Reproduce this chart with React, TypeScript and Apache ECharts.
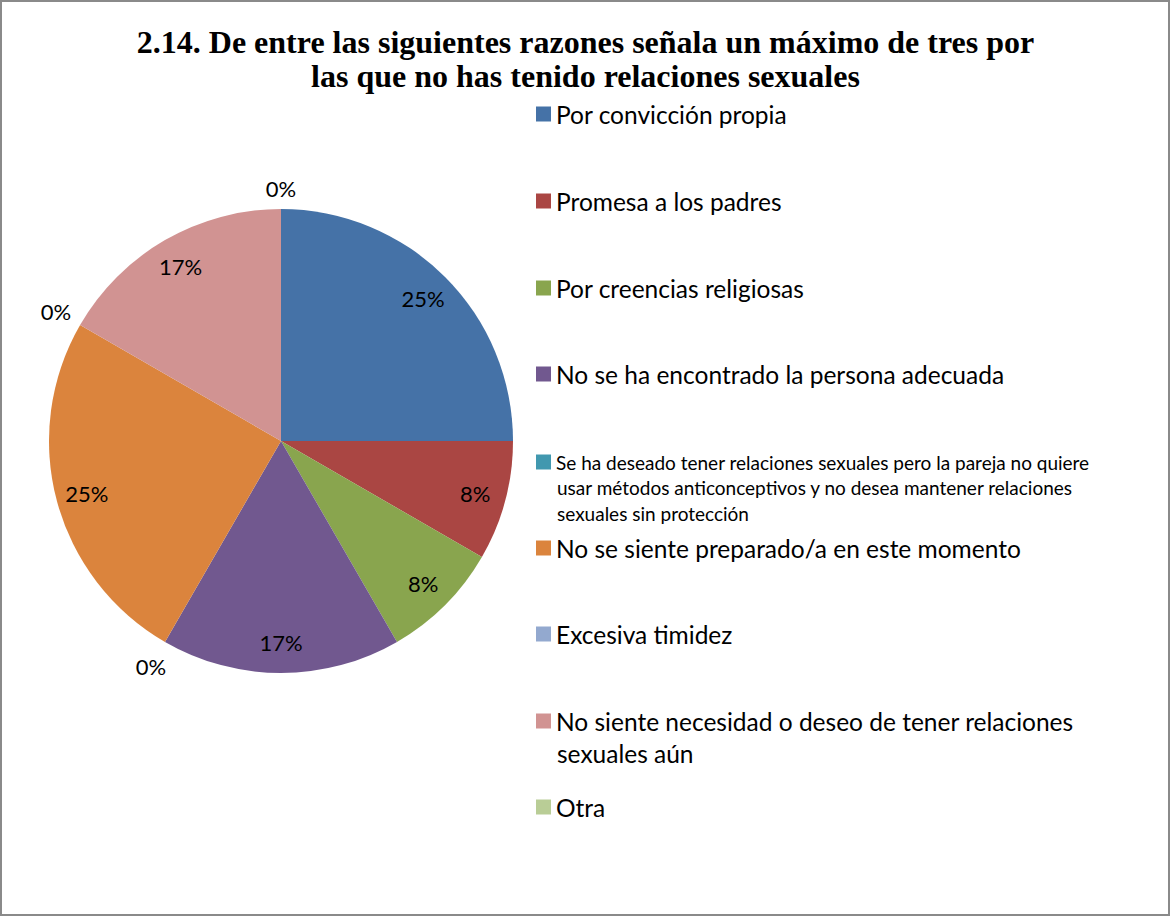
import React, { useEffect, useRef } from "react";
import * as echarts from "echarts";

const titleLines = [
  "2.14. De entre las siguientes razones señala un máximo de tres por",
  "las que no has tenido relaciones sexuales",
];

const categories = [
  "Por convicción propia",
  "Promesa a los padres",
  "Por creencias religiosas",
  "No se ha encontrado la persona adecuada",
  "Se ha deseado tener relaciones sexuales pero la pareja no quiere\nusar métodos anticonceptivos y no desea mantener relaciones\nsexuales sin protección",
  "No se siente preparado/a en este momento",
  "Excesiva timidez",
  "No siente necesidad o deseo de tener relaciones\nsexuales aún",
  "Otra",
];

const counts = [3, 1, 1, 2, 0, 3, 0, 2, 0];

const colors = [
  "#4572A7",
  "#AA4643",
  "#89A54E",
  "#71588F",
  "#4198AF",
  "#DB843D",
  "#93A9CF",
  "#D19392",
  "#B9CD96",
];

// vertical centre of each legend icon (first text line)
const legendCenters = [114, 201, 288, 374, 462, 548, 634, 721, 807];

const FONT = "Lato, 'Noto Sans', sans-serif";

export default function App() {
  const ref = useRef<HTMLDivElement>(null);

  useEffect(() => {
    document.body.style.margin = "0";
    if (!ref.current) return;
    const chart = echarts.init(ref.current, undefined, { renderer: "svg" });

    const data = categories.map((name, i) => ({
      name,
      value: counts[i],
      itemStyle: { color: colors[i] },
    }));

    const pct = (p: any) => Math.round(p.percent) + "%";

    const extraLines: any[] = [];
    const legends = categories.map((name, i) => {
      const small = i === 4;
      const fontSize = small ? 19 : 24.5;
      const lh = small ? 25.5 : 32;
      const lines = name.split("\n");
      lines.slice(1).forEach((ln, k) => {
        extraLines.push({
          type: "text",
          x: 557,
          y: legendCenters[i] + (k + 1) * lh,
          silent: true,
          style: {
            text: ln,
            fontFamily: FONT,
            fontSize,
            fill: "#000",
            verticalAlign: "middle",
            align: "left",
          },
        });
      });
      return {
        orient: "vertical",
        left: 536,
        top: legendCenters[i] - 14,
        padding: 0,
        itemWidth: 15,
        itemHeight: 15,
        icon: "rect",
        selectedMode: false,
        formatter: (n: string) => n.split("\n")[0],
        data: [{ name, itemStyle: { color: colors[i] } }],
        textStyle: {
          fontFamily: FONT,
          fontSize,
          lineHeight: 28,
          color: "#000",
        },
      };
    });

    chart.setOption({
      animation: false,
      backgroundColor: "#fff",
      title: {
        text: titleLines.join("\n"),
        left: "center",
        top: 25,
        padding: 0,
        textStyle: {
          fontFamily: "'Liberation Serif', 'Times New Roman', serif",
          fontWeight: "bold",
          fontSize: 32,
          lineHeight: 34,
          color: "#000",
        },
      },
      legend: legends,
      graphic: [
        ...extraLines,
        {
          type: "rect",
          shape: { x: 1, y: 1, width: 1168, height: 914 },
          style: { fill: "none", stroke: "#8a8a8a", lineWidth: 2 },
          silent: true,
          z: 100,
        },
      ],
      series: [
        {
          type: "pie",
          center: [281, 441],
          radius: [0, 232],
          startAngle: 90,
          clockwise: true,
          avoidLabelOverlap: false,
          silent: true,
          label: { show: false },
          labelLine: { show: false },
          emphasis: { disabled: true },
          data,
        },
        {
          type: "pie",
          center: [281, 441],
          radius: [164, 232],
          startAngle: 90,
          clockwise: true,
          avoidLabelOverlap: false,
          silent: true,
          itemStyle: { color: "rgba(0,0,0,0)" },
          emphasis: { disabled: true },
          labelLine: { show: false },
          label: {
            show: true,
            position: "inside",
            formatter: pct,
            fontFamily: FONT,
            fontSize: 22,
            color: "#000",
          },
          data: data.map((d) => ({
            name: d.name,
            value: d.value,
            itemStyle: { color: "rgba(0,0,0,0)" },
            label: { show: d.value > 0 },
          })),
        },
        {
          type: "pie",
          center: [281, 441],
          radius: [232, 282],
          startAngle: 90,
          clockwise: true,
          avoidLabelOverlap: false,
          silent: true,
          emphasis: { disabled: true },
          labelLine: { show: false },
          label: {
            show: true,
            position: "inside",
            formatter: pct,
            fontFamily: FONT,
            fontSize: 22,
            color: "#000",
          },
          data: data.map((d, i) => ({
            name: d.name,
            value: d.value,
            itemStyle: { color: "rgba(0,0,0,0)" },
            label:
              i === counts.length - 1
                ? { show: d.value === 0, offset: [0, 7] }
                : { show: d.value === 0 },
          })),
        },
      ],
    });

    return () => chart.dispose();
  }, []);

  return <div ref={ref} style={{ width: 1171, height: 917 }} />;
}
